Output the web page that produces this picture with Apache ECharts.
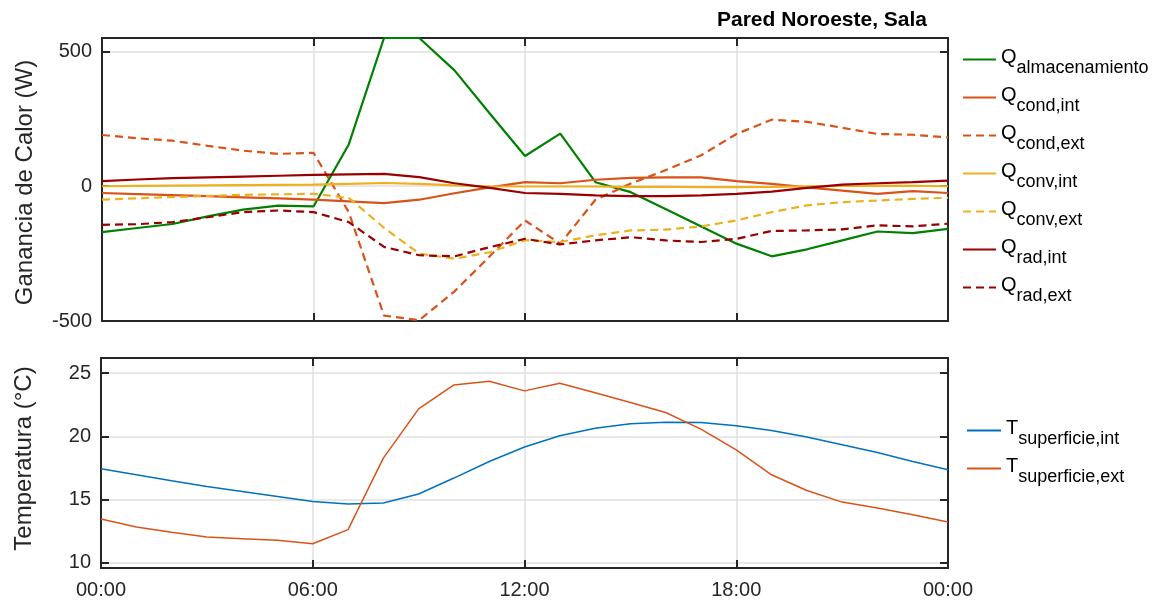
<!DOCTYPE html>
<html>
<head>
<meta charset="utf-8">
<script src="https://cdn.jsdelivr.net/npm/echarts@6/dist/echarts.min.js"></script>
<style>
html,body{margin:0;padding:0;background:#fff;}
#chart{width:1157px;height:602px;}
</style>
</head>
<body>
<div id="chart"></div>
<script>
// ---- data (hourly, 00:00 .. 24:00) ----
const hours = [0,1,2,3,4,5,6,7,8,9,10,11,12,13,14,15,16,17,18,19,20,21,22,23,24];
const xTickLabels = ['00:00','06:00','12:00','18:00','00:00'];

const qAlmacenamiento = [-170,-155,-140,-112,-87,-72,-75,155,550,550,430,270,112,195,15,-22,-85,-149,-213,-260,-234,-201,-168,-174,-158];
const qCondInt = [-25,-29,-33,-37,-41,-45,-50,-56,-63,-50,-26,-4,15,11,24,31,33,33,19,9,-4,-16,-28,-18,-25];
const qCondExt = [190,178,169,150,132,120,124,-96,-480,-497,-390,-260,-127,-213,-50,10,60,115,194,247,239,217,194,191,181];
const qConvInt = [0,1,2,3,4,5,6,9,12,9,3,0,-1,-1,-1,-2,-2,-3,-3,-2,0,1,2,1,0];
const qConvExt = [-50,-45,-40,-36,-32,-30,-28,-43,-154,-250,-269,-245,-200,-207,-182,-164,-161,-149,-127,-96,-71,-59,-53,-47,-43];
const qRadInt = [19,25,30,33,36,39,42,44,46,34,11,-6,-25,-28,-34,-37,-37,-34,-28,-20,-6,6,11,15,21];
const qRadExt = [-143,-141,-133,-115,-96,-90,-96,-133,-225,-256,-260,-226,-195,-216,-201,-189,-201,-207,-195,-166,-164,-160,-145,-149,-139];

const tSupInt = [17.44,16.97,16.5,16.05,15.65,15.26,14.86,14.66,14.74,15.45,16.71,18.02,19.16,20.05,20.65,21.0,21.13,21.1,20.84,20.47,19.95,19.34,18.73,18.02,17.36];
const tSupExt = [13.47,12.84,12.42,12.05,11.92,11.79,11.52,12.63,18.29,22.18,24.07,24.36,23.6,24.2,23.45,22.68,21.89,20.58,18.94,16.97,15.73,14.81,14.34,13.81,13.24];

const topNames = ['almacenamiento','cond,int','cond,ext','conv,int','conv,ext','rad,int','rad,ext'];
const botNames = ['superficie,int','superficie,ext'];

// ---- styling ----
const FONT = "'Liberation Sans', Arial, Helvetica, sans-serif";
const AX = '#262626';
const GRIDC = '#e0e0e0';
const C_GREEN = '#008000', C_ORANGE = '#D95319', C_YELLOW = '#EDB120', C_DRED = '#990000', C_BLUE = '#0072BD';

const pair = arr => hours.map((h,i) => [h, arr[i]]);

function xAxisDef(grid, pos, labels) {
  return {
    type:'value', gridIndex:grid, position:pos, min:0, max:24, interval:6,
    axisLine:{show:true, onZero:false, lineStyle:{color:AX, width:2}},
    axisTick:{show:true, inside:true, length:8, lineStyle:{color:AX, width:2}},
    axisLabel:{show:labels, margin:12, color:AX, fontFamily:FONT, fontSize:20,
      formatter: v => xTickLabels[Math.round(v/6)]},
    splitLine:{show:pos==='bottom', lineStyle:{color:GRIDC, width:1.5}}
  };
}
function yAxisDef(grid, pos, mn, mx, split, labels, name, namePad) {
  return {
    type:'value', gridIndex:grid, position:pos, min:mn, max:mx, splitNumber:split,
    axisLine:{show:true, onZero:false, lineStyle:{color:AX, width:2}},
    axisTick:{show:true, inside:true, length:8, lineStyle:{color:AX, width:2}},
    axisLabel:{show:labels, margin:10, color:AX, fontFamily:FONT, fontSize:20,
      showMinLabel: grid===0, showMaxLabel:false},
    splitLine:{show:pos==='left', lineStyle:{color:GRIDC, width:1.5}},
    name: name || '', nameLocation:'middle', nameRotate:90, nameGap:65,
    nameTextStyle:{color:AX, fontFamily:FONT, fontSize:24, padding: namePad || 0}
  };
}

function lineSeries(nm, arr, color, dashed, xi, yi, w, clip) {
  return {
    type:'line', name:nm, data:pair(arr), xAxisIndex:xi, yAxisIndex:yi,
    symbol:'none', showSymbol:false, smooth:false, clip: clip, animation:false,
    lineStyle:{color:color, width:w, type: dashed ? [8,5] : 'solid'},
    itemStyle:{color:color}
  };
}

const rich = {
  q:{fontSize:20, fontFamily:FONT, color:'#000', lineHeight:20, padding:[0,0,10,0], verticalAlign:'bottom'},
  s:{fontSize:18, fontFamily:FONT, color:'#000', lineHeight:18, verticalAlign:'bottom'}
};

const option = {
  backgroundColor:'#fff',
  animation:false,
  graphic:[{
    type:'text', x:822, y:20,
    style:{text:'Pared Noroeste, Sala', font:"bold 21px " + FONT, fill:'#000', textAlign:'center', textVerticalAlign:'middle'}
  }],
  grid:[
    {left:102, right:209, top:38, height:283},
    {left:101, right:209, top:358, height:210}
  ],
  xAxis:[
    xAxisDef(0,'bottom',false), xAxisDef(0,'top',false),
    xAxisDef(1,'bottom',true),  xAxisDef(1,'top',false)
  ],
  yAxis:[
    yAxisDef(0,'left',-500,550,2,true,'Ganancia de Calor (W)',[0,6,0,0]),
    yAxisDef(0,'right',-500,550,2,false),
    yAxisDef(1,'left',9.6,26.2,3,true,'Temperatura (°C)',[0,0,0,9]),
    yAxisDef(1,'right',9.6,26.2,3,false)
  ],
  legend:[
    {
      orient:'vertical', left:962, top:47, padding:0, itemGap:8, itemWidth:33, itemHeight:14,
      data: topNames.map(n => 'Q' + n),
      formatter: nm => '{q|Q}{s|' + nm.slice(1) + '}',
      textStyle:{rich:rich, padding:[15,0,0,0]},
      itemStyle:{opacity:0},
      selectedMode:false
    },
    {
      orient:'vertical', left:966, top:418, padding:0, itemGap:8, itemWidth:34, itemHeight:14,
      data: botNames.map(n => 'T' + n),
      formatter: nm => '{q|T}{s|' + nm.slice(1) + '}',
      textStyle:{rich:rich, padding:[15,0,0,0]},
      itemStyle:{opacity:0},
      selectedMode:false
    }
  ],
  series:[
    lineSeries('Q'+topNames[0], qAlmacenamiento, C_GREEN, false, 0, 0, 2.2, false),
    lineSeries('Q'+topNames[1], qCondInt, C_ORANGE, false, 0, 0, 2.2, true),
    lineSeries('Q'+topNames[2], qCondExt, C_ORANGE, true, 0, 0, 2.2, true),
    lineSeries('Q'+topNames[3], qConvInt, C_YELLOW, false, 0, 0, 2.2, true),
    lineSeries('Q'+topNames[4], qConvExt, C_YELLOW, true, 0, 0, 2.2, true),
    lineSeries('Q'+topNames[5], qRadInt, C_DRED, false, 0, 0, 2.2, true),
    lineSeries('Q'+topNames[6], qRadExt, C_DRED, true, 0, 0, 2.2, true),
    lineSeries('T'+botNames[0], tSupInt, C_BLUE, false, 2, 2, 1.5, true),
    lineSeries('T'+botNames[1], tSupExt, C_ORANGE, false, 2, 2, 1.5, true)
  ]
};

const chart = echarts.init(document.getElementById('chart'), null, {renderer:'canvas'});
chart.setOption(option);
</script>
</body>
</html>
